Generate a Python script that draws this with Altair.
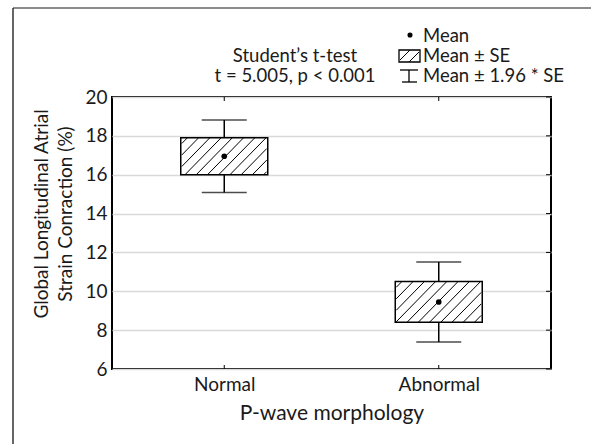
import json
import altair as alt
import pandas as pd

# ---------------- data ----------------
groups = ["Normal", "Abnormal"]
means = [16.95, 9.45]
ses = [0.95, 1.05]
y_ticks = [6, 8, 10, 12, 14, 16, 18, 20]
x_title = "P-wave morphology"
y_title = ["Global Longitudinal Atrial", "Strain Conraction (%)"]
test_lines = ["Student\u2019s t-test", "t = 5.005, p < 0.001"]
legend_labels = ["Mean", "Mean \u00b1 SE", "Mean \u00b1 1.96 * SE"]

# ---------------- layout / style ----------------
W, H = 439, 272
PAD = {"left": 112, "top": 97, "right": 40, "bottom": 75}
YMIN, YMAX = 6, 20
BOX_W = 87
CAP_W = 45
HATCH = 11.5
FONT = "Lato"
TXT = "#1a1a1a"
FS = 19
FS_ANN = 18.5
n = len(groups)
pos = [i + 0.5 for i in range(n)]

df = pd.DataFrame({"group": groups, "pos": pos, "mean": means, "se": ses})

# hatch segments clipped to each Mean +- SE box (45 degree lines in pixel space)
px_x = W / n
px_y = H / (YMAX - YMIN)
segs = []
for p, m, s in zip(pos, means, ses):
    u0, u1 = p * px_x - BOX_W / 2, p * px_x + BOX_W / 2
    v0, v1 = (m - s - YMIN) * px_y, (m + s - YMIN) * px_y
    c = u0 - v1 + HATCH * 0.5
    while c < u1 - v0:
        ua = max(u0, v0 + c)
        ub = min(u1, v1 + c)
        if ub > ua:
            segs.append({
                "x1": ua / px_x, "y1": (ua - c) / px_y + YMIN,
                "x2": ub / px_x, "y2": (ub - c) / px_y + YMIN,
            })
        c += HATCH
hatch_df = pd.DataFrame(segs)

label_expr = "%s[floor(datum.value)]" % json.dumps(groups).replace('"', "'")

xscale = alt.Scale(domain=[0, n], nice=False, zero=False)
yscale = alt.Scale(domain=[YMIN, YMAX], nice=False, zero=False)

xaxis = alt.Axis(values=pos, labelExpr=label_expr, grid=False, ticks=False, domain=False,
                 labelFontSize=FS, labelPadding=6, labelColor=TXT, labelFont=FONT,
                 labelOverlap=False, labelFlush=False,
                 title=x_title, titleFontSize=21, titleFont=FONT, titleColor=TXT,
                 titleFontWeight="normal", titlePadding=8)
yaxis = alt.Axis(values=y_ticks, grid=True, gridColor="#d9d9d9", gridWidth=1.5, ticks=False,
                 domain=False, labelFontSize=FS, labelPadding=5, labelColor=TXT,
                 labelFont=FONT, labelOverlap=False, labelFlush=False, labelBound=False,
                 title=None)


def X(field):
    return alt.X(field, scale=xscale, axis=xaxis, title=x_title)


def Y(field):
    return alt.Y(field, scale=yscale, axis=yaxis, title=None)


base = alt.Chart(df).transform_calculate(
    lo="datum.mean - datum.se", hi="datum.mean + datum.se",
    wlo="datum.mean - 1.96 * datum.se", whi="datum.mean + 1.96 * datum.se",
)

boxes = base.mark_bar(size=BOX_W, fill="white", stroke="black", strokeWidth=1.5).encode(
    x=X("pos:Q"), y=Y("lo:Q"), y2="hi:Q")

hatch = alt.Chart(hatch_df).mark_rule(color="black", strokeWidth=1).encode(
    x=X("x1:Q"), x2="x2:Q", y=Y("y1:Q"), y2="y2:Q")

stem_hi = base.mark_rule(color="black", strokeWidth=1.5).encode(
    x=X("pos:Q"), y=Y("hi:Q"), y2="whi:Q")
stem_lo = base.mark_rule(color="black", strokeWidth=1.5).encode(
    x=X("pos:Q"), y=Y("wlo:Q"), y2="lo:Q")
cap_hi = base.mark_tick(orient="horizontal", size=CAP_W, thickness=1.5, color="black").encode(
    x=X("pos:Q"), y=Y("whi:Q"))
cap_lo = base.mark_tick(orient="horizontal", size=CAP_W, thickness=1.5, color="black").encode(
    x=X("pos:Q"), y=Y("wlo:Q"))
dots = base.mark_point(filled=True, size=32, color="black", opacity=1).encode(
    x=X("pos:Q"), y=Y("mean:Q"))

# small inside ticks on frame
top_ticks = base.mark_rule(color="black", strokeWidth=1).encode(
    x=X("pos:Q"), y=alt.value(0), y2=alt.value(4))
bot_ticks = base.mark_rule(color="black", strokeWidth=1).encode(
    x=X("pos:Q"), y=alt.value(H - 4), y2=alt.value(H))
right_ticks = alt.Chart(pd.DataFrame({"v": y_ticks})).mark_rule(color="black", strokeWidth=1).encode(
    y=Y("v:Q"), x=alt.value(W - 5), x2=alt.value(W))

one = pd.DataFrame({"k": [0]})


def txt(text, x, y, align="left", size=FS_ANN, **kw):
    return alt.Chart(one).mark_text(
        align=align, baseline="alphabetic", fontSize=size, font=FONT, color=TXT, **kw
    ).encode(x=alt.value(x), y=alt.value(y), text=alt.value(text))


def seg(x1, y1, x2, y2, color="black", w=1.3):
    return alt.Chart(one).mark_rule(color=color, strokeWidth=w).encode(
        x=alt.value(x1), y=alt.value(y1), x2=alt.value(x2), y2=alt.value(y2))


# annotations (pixel positions relative to plot origin)
ann = [
    txt(test_lines[0], 183, -35, align="center"),
    txt(test_lines[1], 183, -15, align="center"),
    txt(legend_labels[0], 311, -55),
    txt(legend_labels[1], 311, -35),
    txt(legend_labels[2], 311, -15),
]

leg_dot = alt.Chart(one).mark_point(filled=True, size=26, color="black", opacity=1).encode(
    x=alt.value(298), y=alt.value(-62))
leg_box = alt.Chart(one).mark_rect(fill="white", stroke="black", strokeWidth=1.3).encode(
    x=alt.value(287), x2=alt.value(308), y=alt.value(-47), y2=alt.value(-35))
leg_parts = [
    leg_box,
    seg(288, -37, 298, -47, w=1),
    seg(297, -35, 307, -45, w=1),
    seg(288, -27, 306, -27),
    seg(297, -27, 297, -15),
    seg(290, -15, 305, -15),
    leg_dot,
]

y_title_mark = alt.Chart(one).mark_text(
    angle=270, align="center", baseline="middle", fontSize=FS, font=FONT, color=TXT, lineHeight=24
).encode(x=alt.value(-70), y=alt.value(117), text=alt.value(y_title))

frame = [
    seg(-99, -89, W + PAD["right"] + 5, -89, color="#666666", w=1.5),
    seg(-99, -89, -99, H + PAD["bottom"] + 5, color="#333333", w=1.5),
]

chart = alt.layer(
    boxes, hatch, stem_hi, stem_lo, cap_hi, cap_lo, dots,
    top_ticks, bot_ticks, right_ticks,
    *ann, *leg_parts, y_title_mark, *frame,
).properties(
    width=W, height=H,
    autosize=alt.AutoSizeParams(type="none"),
    padding=PAD,
    background="white",
).configure_view(stroke="black", strokeWidth=2).configure_axis(labelOverlap=False)

chart.save("out.html", embed_options={"renderer": "svg", "actions": False})
